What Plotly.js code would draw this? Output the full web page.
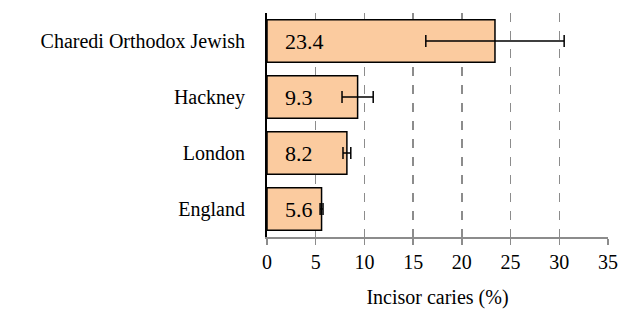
<!DOCTYPE html>
<html>
<head>
<meta charset="utf-8">
<script src="https://cdn.plot.ly/plotly-3.0.1.min.js"></script>
<style>
html,body{margin:0;padding:0;background:#fff;}
#chart{width:620px;height:313px;}
</style>
</head>
<body>
<div id="chart"></div>
<script>
const categories = ["Charedi Orthodox Jewish", "Hackney", "London", "England"];
const values = [23.4, 9.3, 8.2, 5.6];
const errors = [7.1, 1.6, 0.4, 0.15];
const xTicks = [0, 5, 10, 15, 20, 25, 30, 35];

const FONT = "Times New Roman";

const trace = {
  type: "bar",
  orientation: "h",
  y: categories,
  x: values,
  width: 0.76,
  marker: {color: "#FBCB9F", line: {color: "#000", width: 1.5}},
  error_x: {type: "data", array: errors, visible: true, color: "#000", thickness: 1.5, width: 6}
};

const annotations = categories.map((c, i) => ({
  x: 0, y: c, xref: "x", yref: "y",
  text: values[i].toFixed(1),
  showarrow: false, xanchor: "left", yanchor: "middle",
  xshift: 16,
  font: {family: FONT, size: 22}
}));

const layout = {
  width: 620, height: 313,
  margin: {l: 267, r: 12, t: 13, b: 76},
  paper_bgcolor: "#fff", plot_bgcolor: "#fff",
  showlegend: false,
  font: {family: FONT, size: 20, color: "#000"},
  xaxis: {
    range: [0, 35], tickvals: xTicks, ticktext: xTicks.map(String),
    showgrid: true, gridcolor: "#8c8c8c", griddash: "dash", gridwidth: 1.5,
    zeroline: false,
    showline: true, linecolor: "#8c8c8c", linewidth: 1.5,
    ticks: "outside", ticklen: 6, tickcolor: "#8c8c8c", tickwidth: 1.5,
    tickfont: {family: FONT, size: 20},
    title: {text: "Incisor caries (%)", font: {family: FONT, size: 20}, standoff: 18}
  },
  yaxis: {
    autorange: "reversed",
    showgrid: false, zeroline: false,
    showline: true, linecolor: "#000", linewidth: 2,
    ticks: "outside", ticklen: 16, tickcolor: "rgba(0,0,0,0)",
    tickfont: {family: FONT, size: 20}
  },
  annotations: annotations
};

Plotly.newPlot("chart", [trace], layout, {staticPlot: true});
</script>
</body>
</html>
